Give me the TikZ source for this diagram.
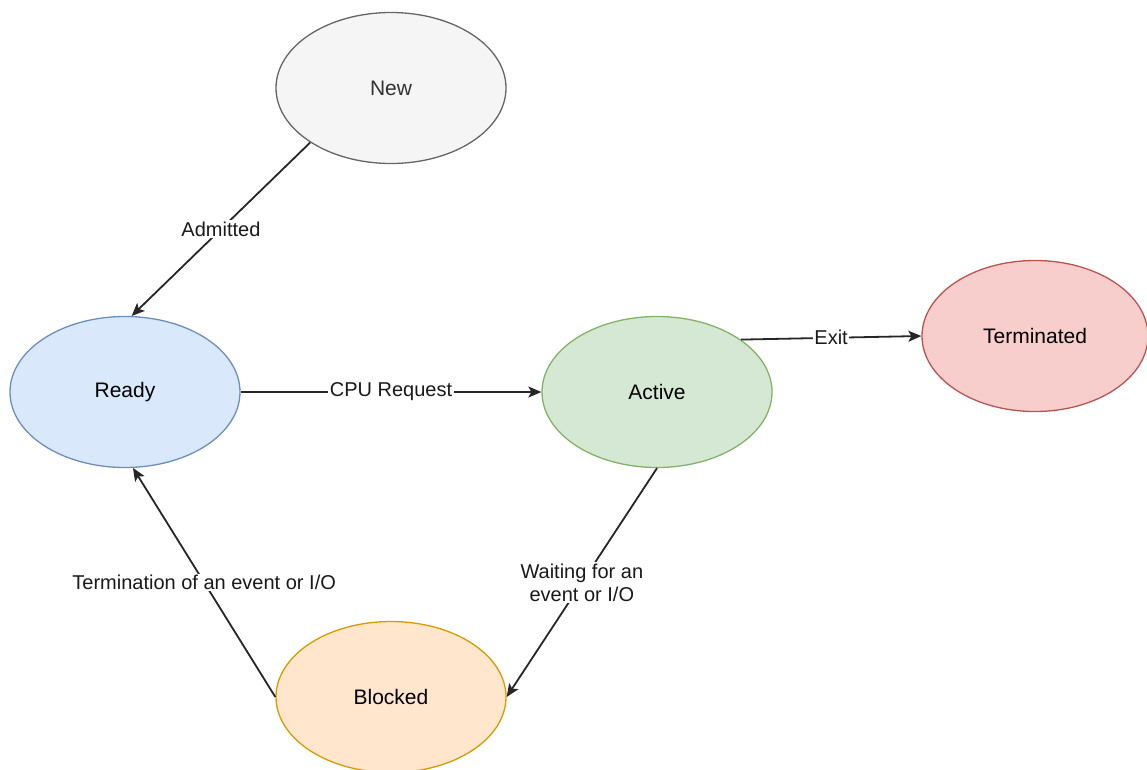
\documentclass[tikz,border=0pt]{standalone}
\usepackage{fontspec}
\setmainfont{Liberation Sans}
\usetikzlibrary{shapes.geometric,arrows.meta}

\definecolor{newfill}{HTML}{F5F5F5}\definecolor{newline}{HTML}{666666}\definecolor{newtext}{HTML}{333333}
\definecolor{readyfill}{HTML}{DAE8FC}\definecolor{readyline}{HTML}{6C8EBF}
\definecolor{activefill}{HTML}{D5E8D4}\definecolor{activeline}{HTML}{82B366}
\definecolor{termfill}{HTML}{F8CECC}\definecolor{termline}{HTML}{B85450}
\definecolor{blockfill}{HTML}{FFE6CC}\definecolor{blockline}{HTML}{D79B00}

\tikzset{
  state/.style={ellipse, draw, line width=1.3pt, inner sep=0pt,
    minimum width=230pt, minimum height=151pt, font=\fontsize{21}{25}\selectfont},
  trans/.style={line width=1.8pt, draw=black!85,
    -{Stealth[length=13pt,width=11pt,inset=3pt]}},
  lbl/.style={fill=white, inner sep=1.5pt, text=black!90,
    font=\fontsize{20}{23}\selectfont, align=center},
}

\begin{document}
\begin{tikzpicture}[x=1pt,y=-1pt]
  \useasboundingbox (0,0) rectangle (1147,769);

  % process states
  \node[state, fill=newfill, draw=newline, text=newtext] (new) at (391,88) {New};
  \node[state, fill=readyfill, draw=readyline] (ready) at (125,392) {Ready};
  \node[state, fill=activefill, draw=activeline] (active) at (657,392) {Active};
  \node[state, fill=termfill, draw=termline, minimum width=226pt] (term) at (1035,336) {Terminated};
  \node[state, fill=blockfill, draw=blockline] (blocked) at (391,697) {Blocked};

  % transitions
  \draw[trans] (new.214) -- node[lbl] {Admitted} (ready.85);
  \draw[trans] (ready.east) -- node[lbl] {CPU Request} (active.west);
  \draw[trans] (active.32) -- node[lbl] {Exit} (term.west);
  \draw[trans] (active.south) -- node[lbl] {Waiting for an\\event or I/O} (blocked.east);
  \draw[trans] (blocked.west) -- node[lbl] {Termination of an event or I/O} (ready.-84);
\end{tikzpicture}
\end{document}
